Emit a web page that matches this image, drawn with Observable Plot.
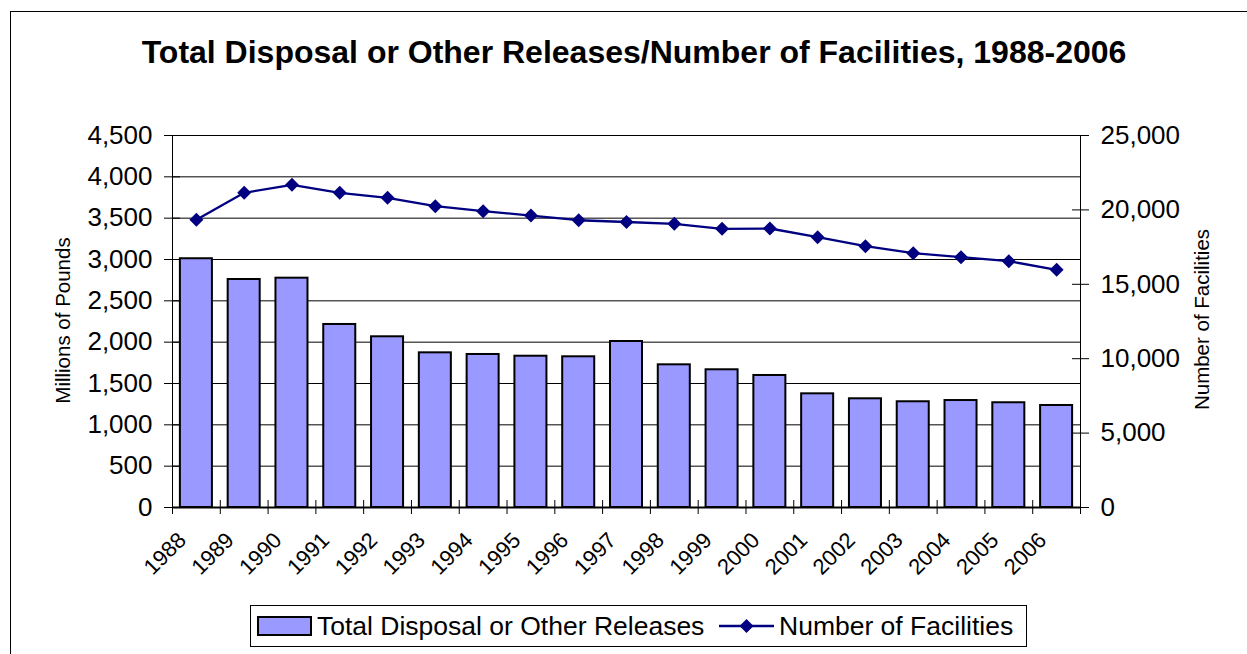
<!DOCTYPE html>
<html>
<head>
<meta charset="utf-8">
<script src="https://cdn.jsdelivr.net/npm/d3@7"></script>
<script src="https://cdn.jsdelivr.net/npm/@observablehq/plot@0.6"></script>
<style>
  html, body { margin: 0; padding: 0; background: #fff; }
  #wrap { position: relative; width: 1247px; height: 654px; overflow: hidden; font-family: "Liberation Sans", Arial, sans-serif; color: #000; }
  #frame { position: absolute; left: 10px; top: 11px; width: 1400px; height: 800px; border-left: 1px solid #000; border-top: 1px solid #000; }
  #title { position: absolute; left: 0; top: 36px; width: 1268px; text-align: center; font-size: 32px; line-height: 32px; font-weight: bold; white-space: nowrap; }
  #chart { position: absolute; left: 0; top: 0; }
  #legendBox { position: absolute; left: 250px; top: 605px; width: 775px; height: 40px; border: 1px solid #000; background: #fff; }
  .lg { position: absolute; font-size: 26.5px; line-height: 26px; white-space: nowrap; }
  #sw { position: absolute; left: 257px; top: 616px; width: 51px; height: 16px; border: 2px solid #000; background: #9999ff; }
  #lineSym { position: absolute; left: 719px; top: 616px; }
</style>
</head>
<body>
<div id="wrap">
  <div id="frame"></div>
  <div id="chart"></div>
  <div id="title">Total Disposal or Other Releases/Number of Facilities, 1988-2006</div>
  <div id="legendBox"></div>
  <div id="sw"></div>
  <div class="lg" style="left:317px; top:613px;">Total Disposal or Other Releases</div>
  <svg id="lineSym" width="55" height="20"><line x1="0" y1="10" x2="55" y2="10" stroke="#000080" stroke-width="2.3"></line><path d="M27.5,3 L34.5,10 L27.5,17 L20.5,10 Z" fill="#000080"></path></svg>
  <div class="lg" style="left:779px; top:613px;">Number of Facilities</div>
</div>
<script>
const years = ["1988","1989","1990","1991","1992","1993","1994","1995","1996","1997","1998","1999","2000","2001","2002","2003","2004","2005","2006"];
const releases = [3009, 2758, 2774, 2214, 2065, 1871, 1851, 1830, 1823, 2008, 1726, 1666, 1597, 1375, 1315, 1279, 1294, 1267, 1234];
const facilities = [19335, 21148, 21685, 21148, 20812, 20247, 19912, 19622, 19306, 19186, 19065, 18729, 18750, 18165, 17560, 17090, 16820, 16552, 15974];
const leftTicks = [0, 500, 1000, 1500, 2000, 2500, 3000, 3500, 4000, 4500];
const rightTicks = [0, 5000, 10000, 15000, 20000, 25000];
const leftMax = 4500, rightMax = 25000;
const k = leftMax / rightMax;
const n = years.length;
const fmt = d3.format(",");
const font = "'Liberation Sans', Arial, sans-serif";

const chart = Plot.plot({
  width: 1247,
  height: 600,
  marginTop: 135,
  marginBottom: 93,
  marginLeft: 172,
  marginRight: 167,
  style: { fontFamily: font, color: "#000", background: "transparent", overflow: "visible" },
  x: { type: "linear", domain: [0, n], axis: null },
  y: { domain: [0, leftMax], axis: null },
  marks: [
    Plot.ruleY(leftTicks, { stroke: "#000", strokeWidth: 1 }),
    Plot.ruleY(leftTicks, { x1: 0, x2: 0, insetLeft: -8, insetRight: -8, stroke: "#000" }),
    Plot.ruleY(rightTicks.map(v => v * k), { x1: n, x2: n, insetLeft: -8, insetRight: -9, stroke: "#000" }),
    Plot.axisY(leftTicks, { anchor: "left", tickSize: 0, tickPadding: 20, fontSize: 26, tickFormat: fmt, label: null }),
    Plot.axisY(rightTicks.map(v => v * k), { anchor: "right", tickSize: 0, tickPadding: 20, fontSize: 26, tickFormat: d => fmt(Math.round(d / k)), label: null }),
    Plot.ruleX([0, n], { stroke: "#000", strokeWidth: 1 }),
    Plot.rectY(releases, { x1: (d, i) => i + 0.165, x2: (d, i) => i + 0.835, y1: 0, y2: d => d, fill: "#9999ff", stroke: "#000", strokeWidth: 2 }),
    Plot.ruleY([0], { stroke: "#000", strokeWidth: 2 }),
    Plot.ruleX(d3.range(0, n + 1), { y1: 0, y2: 0, insetTop: 7, insetBottom: 7, stroke: "#000" }),
    Plot.line(facilities, { x: (d, i) => i + 0.5, y: d => d * k, stroke: "#000080", strokeWidth: 2.3 }),
    Plot.dot(facilities, { x: (d, i) => i + 0.5, y: d => d * k, symbol: "diamond2", r: 6.3, fill: "#000080", stroke: "none" }),
    Plot.text(years, { x: (d, i) => i + 0.5, y: 0, text: d => d, rotate: -45, textAnchor: "end", lineAnchor: "bottom", dx: -9, dy: 34, fontSize: 22, fill: "#000" }),
    Plot.text(["Millions of Pounds"], { frameAnchor: "left", textAnchor: "middle", text: d => d, rotate: -90, dx: -109.5, dy: -1, fontSize: 20.5, fill: "#000" }),
    Plot.text(["Number of Facilities"], { frameAnchor: "right", textAnchor: "middle", text: d => d, rotate: -90, dx: 122, dy: -2, fontSize: 20.5, fill: "#000" })
  ]
});
document.getElementById("chart").appendChild(chart);
</script>
</body>
</html>
